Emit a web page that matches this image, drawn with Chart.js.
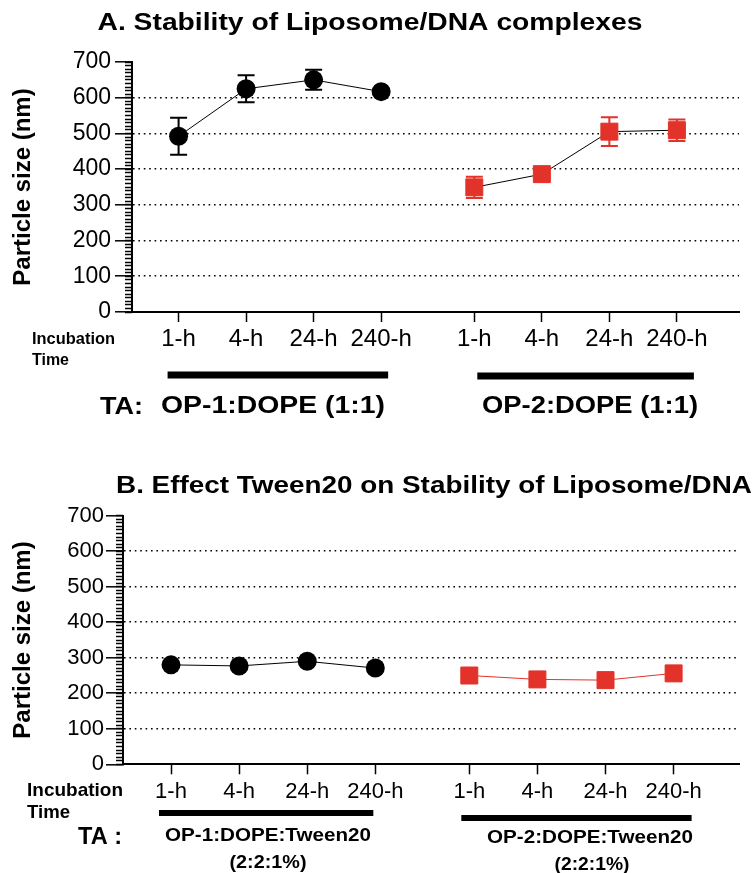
<!DOCTYPE html>
<html>
<head>
<meta charset="utf-8">
<script src="https://cdn.jsdelivr.net/npm/chart.js@4"></script>
<style>
  body { margin: 0; background: #fff; }
  canvas { position: absolute; left: 0; }
  #chartA { top: 0; }
  #chartB { top: 440px; }
</style>
</head>
<body>
<canvas id="chartA" width="752" height="430"></canvas>
<canvas id="chartB" width="752" height="433"></canvas>
<script>
// values (particle size, nm)
const timeLabels = ["1-h", "4-h", "24-h", "240-h"];
const groupNamesA = ["OP-1:DOPE (1:1)", "OP-2:DOPE (1:1)"];
const groupNamesB = ["OP-1:DOPE:Tween20", "OP-2:DOPE:Tween20"];
const ratioB = "(2:2:1%)";

const sizeA_op1 = [492, 625, 650, 617];
const errA_op1 = [52, 38, 28, 8];
const sizeA_op2 = [349, 386, 505, 509];
const errA_op2 = [30, 12, 40, 30];

const sizeB_op1 = [280, 277, 290, 271];
const sizeB_op2 = [250, 239, 237, 256];

const RED = "#e2322a";
const FONT = "'Liberation Sans', Arial, Helvetica, sans-serif";
const GROUP_GAP = 1.38; // extra room between the two formulations

Chart.defaults.font.family = FONT;
Chart.defaults.color = "#000";

const xPos = (g, i) => 1 + i + g * (3 + GROUP_GAP);
const points = (vals, g) => vals.map((v, i) => ({x: xPos(g, i), y: v}));

// bold text squeezed/stretched to a given width
const drawFitted = (ctx, t) => {
    ctx.save();
    ctx.font = "bold " + t.size + "px " + FONT;
    let w = ctx.measureText(t.text).width;
    let left = t.align === "center" ? t.x - t.width / 2 : t.x;
    ctx.translate(left, t.y);
    ctx.scale(t.width / w, 1);
    ctx.textAlign = "left";
    ctx.textBaseline = "middle";
    ctx.fillStyle = "#000";
    ctx.fillText(t.text, 0, 0);
    ctx.restore();
};

const errorBars = {
    id: "errorBars",
    beforeDatasetsDraw(chart) {
        let ctx = chart.ctx;
        let ys = chart.scales.y;
        chart.data.datasets.forEach((ds, di) => {
            if (!ds.errors) return;
            let meta = chart.getDatasetMeta(di);
            meta.data.forEach((pt, i) => {
                let v = ds.data[i].y;
                let top = ys.getPixelForValue(v + ds.errors[i]);
                let bot = ys.getPixelForValue(v - ds.errors[i]);
                ctx.save();
                ctx.strokeStyle = ds.errorColor;
                ctx.lineWidth = 2;
                ctx.beginPath();
                ctx.moveTo(pt.x, top); ctx.lineTo(pt.x, bot);
                ctx.moveTo(pt.x - 8.5, top); ctx.lineTo(pt.x + 8.5, top);
                ctx.moveTo(pt.x - 8.5, bot); ctx.lineTo(pt.x + 8.5, bot);
                ctx.stroke();
                ctx.restore();
            });
        });
    }
};

const panelDecor = {
    id: "panelDecor",
    afterDraw(chart, args, o) {
        let ctx = chart.ctx;
        let xs = chart.scales.x;
        o.bars.forEach((b, g) => {
            let x1 = xs.getPixelForValue(xPos(g, 0)) + b.from;
            let x2 = xs.getPixelForValue(xPos(g, timeLabels.length - 1)) + b.to;
            ctx.fillStyle = "#000";
            ctx.fillRect(x1, b.y - b.h / 2, x2 - x1, b.h);
        });
        o.texts.forEach((t) => drawFitted(ctx, t));
    }
};

const buildChart = (id, p) => {
    let canvas = document.getElementById(id);
    let W = canvas.width, H = canvas.height;
    return new Chart(canvas, {
        type: "line",
        data: {datasets: p.datasets},
        options: {
            responsive: false,
            animation: false,
            layout: {padding: {left: 0, right: W - p.area.right, top: p.area.top, bottom: 0}},
            plugins: {
                legend: {display: false},
                tooltip: {enabled: false},
                panelDecor: p.decor
            },
            scales: {
                x: {
                    type: "linear", position: "bottom", min: p.xMin, max: p.xMax,
                    afterBuildTicks: (s) => {
                        s.ticks = [0, 1].flatMap((g) => timeLabels.map((_, i) => ({value: xPos(g, i)})));
                    },
                    afterFit: (s) => {
                        s.height = H - p.area.bottom;
                        s.paddingLeft = 0;
                        s.paddingRight = 0;
                    },
                    ticks: {
                        autoSkip: false, maxRotation: 0, minRotation: 0,
                        font: {size: p.xTickSize}, color: "#000", padding: p.xTickPad,
                        callback: (v, i) => timeLabels[i % timeLabels.length]
                    },
                    grid: {drawOnChartArea: false, tickLength: 10, tickWidth: 1.5, tickColor: "#000"},
                    border: {color: "#000", width: 2}
                },
                y: {
                    type: "linear", position: "left", weight: 1, min: 0, max: 700,
                    afterFit: (s) => { s.width = p.area.left; },
                    ticks: {stepSize: 100, font: {size: p.yTickSize}, color: "#000", padding: p.yTickPad},
                    grid: {
                        color: (c) => (c.tick && c.tick.value > 0 && c.tick.value < 700) ? "#000" : "rgba(0,0,0,0)",
                        lineWidth: 1.6, tickLength: 17, tickWidth: 1.5, tickColor: "#000"
                    },
                    border: {color: "#000", width: 2, dash: [1.6, 3.8]},
                    title: {
                        display: true, text: "Particle size (nm)", color: "#000",
                        font: {size: 24, weight: "bold"}, padding: {top: 9, bottom: 0}
                    }
                },
                yMinor: {
                    type: "linear", position: "left", weight: 0, min: 0, max: 700,
                    afterFit: (s) => { s.width = 0; },
                    ticks: {display: false, stepSize: 10, autoSkip: false},
                    grid: {drawOnChartArea: false, tickLength: 7, tickWidth: 1.5, tickColor: "#000"},
                    border: {display: false}
                }
            }
        },
        plugins: [errorBars, panelDecor]
    });
};

const series = (vals, g, opts) => Object.assign({
    data: points(vals, g),
    xAxisID: "x",
    yAxisID: "y",
    borderWidth: 1,
    tension: 0,
    fill: false,
    clip: false
}, opts);

const blackDots = {pointStyle: "circle", pointRadius: 9.5, pointBackgroundColor: "#000", pointBorderColor: "#000", pointBorderWidth: 0};
const redSquares = {pointStyle: "rect", pointRadius: 12, pointBackgroundColor: RED, pointBorderColor: RED, pointBorderWidth: 1};

buildChart("chartA", {
    area: {left: 132, right: 745, top: 62, bottom: 312},
    xMin: 0.31, xMax: 9.30,
    xTickSize: 24, xTickPad: 3,
    yTickSize: 23, yTickPad: 4,
    datasets: [
        series(sizeA_op1, 0, Object.assign({borderColor: "#000", errors: errA_op1, errorColor: "#000"}, blackDots)),
        series(sizeA_op2, 1, Object.assign({borderColor: "#000", errors: errA_op2, errorColor: RED}, redSquares))
    ],
    decor: {
        bars: [{from: -11, to: 7, y: 375, h: 7}, {from: 3, to: 17, y: 376, h: 7}],
        texts: [
            {text: "A. Stability of Liposome/DNA complexes", x: 370, y: 24, size: 23, width: 545, align: "center"},
            {text: "Incubation", x: 32, y: 340, size: 16, width: 83},
            {text: "Time", x: 32, y: 361, size: 16, width: 37},
            {text: "TA:", x: 100, y: 407, size: 24, width: 43},
            {text: groupNamesA[0], x: 273, y: 407, size: 23, width: 224, align: "center"},
            {text: groupNamesA[1], x: 590, y: 407, size: 23, width: 216, align: "center"}
        ]
    }
});

buildChart("chartB", {
    area: {left: 123, right: 752, top: 75.7, bottom: 324.3},
    xMin: 0.295, xMax: 9.34,
    xTickSize: 22, xTickPad: 4,
    yTickSize: 22, yTickPad: 2,
    datasets: [
        series(sizeB_op1, 0, Object.assign({borderColor: "#000"}, blackDots)),
        series(sizeB_op2, 1, Object.assign({borderColor: RED}, redSquares))
    ],
    decor: {
        bars: [{from: -12, to: -2, y: 373, h: 6}, {from: -8, to: 18, y: 378, h: 6}],
        texts: [
            {text: "B. Effect Tween20 on Stability of Liposome/DNA", x: 116, y: 46, size: 24, width: 636},
            {text: "Incubation", x: 27, y: 351, size: 19, width: 96},
            {text: "Time", x: 27, y: 373, size: 19, width: 43},
            {text: "TA :", x: 78, y: 397, size: 24, width: 44},
            {text: groupNamesB[0], x: 268, y: 396, size: 19, width: 206, align: "center"},
            {text: ratioB, x: 268, y: 423, size: 19, width: 77, align: "center"},
            {text: groupNamesB[1], x: 590, y: 398, size: 19, width: 206, align: "center"},
            {text: ratioB, x: 592, y: 425, size: 19, width: 75, align: "center"}
        ]
    }
});
</script>
</body>
</html>
